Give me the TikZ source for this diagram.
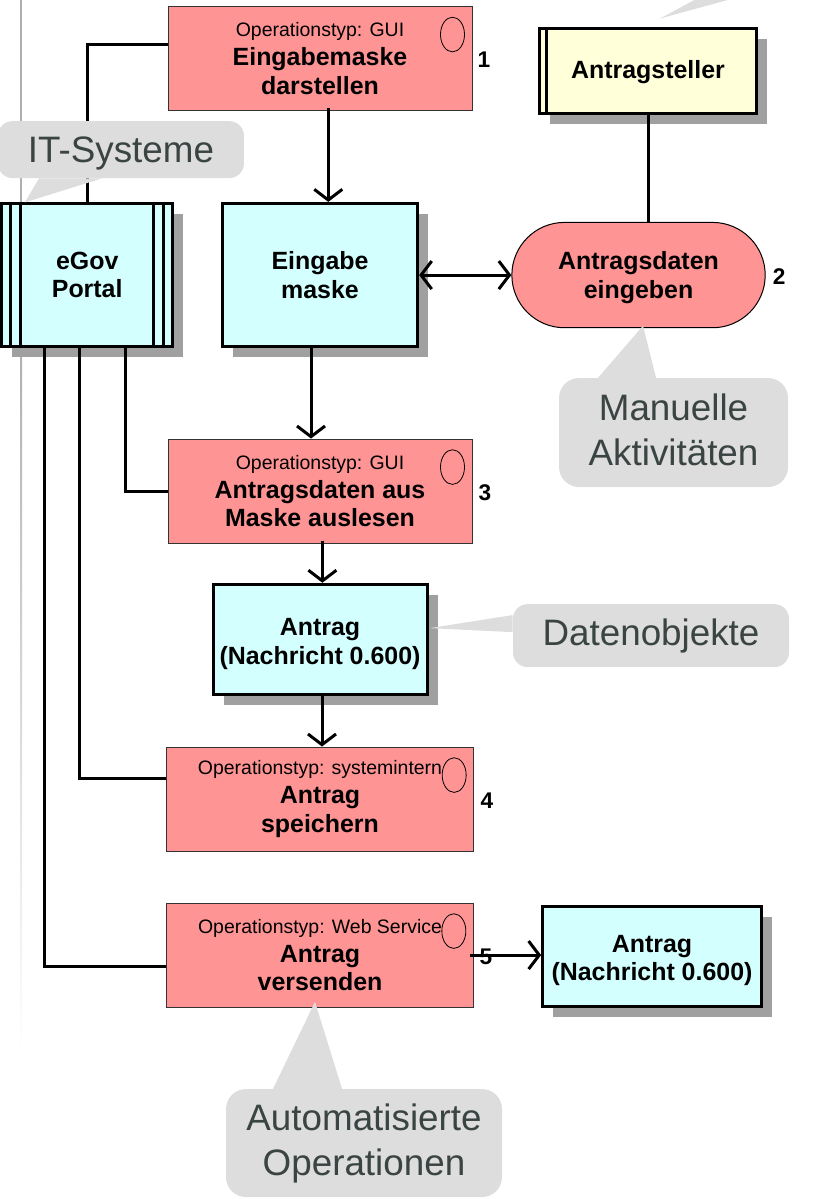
\documentclass[tikz,border=0pt]{standalone}
\usepackage{fontspec}
\setmainfont{Liberation Sans}
\usepackage{tikz}
\usetikzlibrary{arrows.meta,shapes.misc,shapes.geometric,positioning,shadows}
\usepackage{xcolor}
\definecolor{oplightred}{RGB}{255,148,148}
\definecolor{objcyan}{RGB}{212,255,255}
\definecolor{actoryellow}{RGB}{255,255,217}
\definecolor{boxshadow}{RGB}{160,160,160}
\definecolor{notegray}{RGB}{221,221,221}
\definecolor{notetext}{RGB}{58,68,66}
\definecolor{railgray}{RGB}{175,175,175}
\tikzset{boxshadow/.style={drop shadow={shadow xshift=7.9pt, shadow yshift=-7.9pt, fill=boxshadow, opacity=1}}}
\tikzstyle{operation} = [rectangle, minimum width=228pt, minimum height=78pt, inner sep=0pt, align=center, draw=black!80, fill=oplightred, line width=0.75pt, font=\fontsize{18.7}{21.5}\selectfont\bfseries]
\tikzstyle{dataobject} = [rectangle, minimum width=146.5pt, minimum height=107.5pt, inner sep=0pt, align=center, draw=black, fill=objcyan, line width=2.25pt, boxshadow, font=\fontsize{18.7}{21.5}\selectfont\bfseries]
\tikzstyle{actor} = [dataobject, fill=actoryellow]
\tikzstyle{manual} = [rounded rectangle, minimum width=190pt, minimum height=79pt, inner sep=0pt, align=center, draw=black, fill=oplightred, line width=0.75pt, font=\fontsize{18.7}{21.5}\selectfont\bfseries]
\tikzstyle{opmark} = [ellipse, minimum width=18pt, minimum height=26pt, inner sep=0pt, draw=black, line width=0.6pt]
\tikzstyle{number} = [inner sep=0pt, font=\fontsize{17}{20}\selectfont\bfseries]
\tikzstyle{note} = [rectangle, rounded corners=15pt, inner sep=0pt, align=center, fill=notegray, text=notetext, font=\fontsize{27.6}{33.75}\selectfont]
\tikzstyle{tail} = [fill=notegray]
\tikzstyle{arrow} = [line width=2.25pt,-{Straight Barb[length=8pt,width=21pt]},color=black]
\tikzstyle{both} = [line width=2.25pt,{Straight Barb[length=8pt,width=21pt]}-{Straight Barb[length=8pt,width=21pt]},color=black]
\tikzstyle{link} = [line width=2.25pt,color=black]
\tikzstyle{bar} = [line width=2.25pt,color=black]

\begin{document}
\begin{tikzpicture}
\useasboundingbox (0,0) rectangle (624.75pt,-899.25pt);
\fill [railgray] (15pt,0) rectangle (16.5pt,-255pt);
\shade [top color=railgray, bottom color=white] (15pt,-255pt) rectangle (16.5pt,-791pt);

\node (opmaske) [operation] at (240pt,-43.9pt) {{\fontsize{14.6}{18}\selectfont\mdseries Operationstyp: GUI}\\Eingabemaske\\darstellen};
\node (eingabe) [dataobject, node distance=162.4pt, below of=opmaske] {Eingabe\\maske};
\node (egov) [dataobject, minimum width=127.9pt, node distance=174.6pt, left of=eingabe] {eGov\\Portal};
\node (eingeben) [manual, node distance=238.9pt, right of=eingabe] {\rule{0pt}{17.5pt}Antragsdaten\\eingeben};
\node (steller) [actor, minimum width=163pt, minimum height=63.75pt, node distance=246pt, right of=opmaske, yshift=-9pt] {\rule{0pt}{16.5pt}Antragsteller};
\node (opauslesen) [operation, node distance=162pt, below of=eingabe] {{\fontsize{14.6}{18}\selectfont\mdseries Operationstyp: GUI}\\Antragsdaten aus\\Maske auslesen};
\node (antrag) [dataobject, minimum width=160.5pt, minimum height=83pt, node distance=111.4pt, below of=opauslesen] {\rule{0pt}{19.5pt}Antrag\\(Nachricht 0.600)};
\node (opspeichern) [operation, minimum width=230.5pt, node distance=119.6pt, below of=antrag] {{\fontsize{14.6}{18}\selectfont\mdseries Operationstyp: systemintern}\\Antrag\\speichern};
\node (opversenden) [operation, minimum width=230pt, node distance=117pt, below of=opspeichern] {{\fontsize{14.6}{18}\selectfont\mdseries Operationstyp: Web Service}\\Antrag\\versenden};
\node (antragaus) [dataobject, minimum width=164pt, minimum height=75pt, node distance=249pt, right of=opversenden, yshift=-0.75pt] {\rule{0pt}{19.5pt}Antrag\\(Nachricht 0.600)};

% ovals in the operations
\foreach \opname in {opmaske,opauslesen,opspeichern,opversenden}
  \node (\opname mark) [opmark] at ([xshift=-15pt,yshift=18pt]\opname.east) {};

% bars of the system and actor boxes
\foreach \barpos in {7.5pt,15pt}
  \draw [bar] ([xshift=\barpos]egov.north west) -- ([xshift=\barpos]egov.south west);
\foreach \barpos in {7.5pt,15pt}
  \draw [bar] ([xshift=-\barpos]egov.north east) -- ([xshift=-\barpos]egov.south east);
\draw [bar] ([xshift=6.75pt]steller.north west) -- ([xshift=6.75pt]steller.south west);

\draw [link] ([yshift=10.4pt]opmaske.west) -| (egov.north);
\draw [arrow] ([xshift=6.2pt,yshift=2pt]opmaske.south) -- ([xshift=6.2pt]eingabe.north);
\draw [both] (eingabe.east) -- (eingeben.west);
\draw [link] (steller.south) -- (steller.south |- eingeben.north);
\draw [arrow] ([xshift=-6.75pt]eingabe.south) -- ([xshift=-6.75pt]opauslesen.north);
\draw [link] ([xshift=29pt]egov.south) |- (opauslesen.west);
\draw [arrow] ([xshift=1.8pt,yshift=2pt]opauslesen.south) -- ([xshift=1.8pt]antrag.north);
\draw [arrow] ([xshift=1.5pt]antrag.south) -- ([xshift=1.5pt]opspeichern.north);
\draw [link] ([xshift=-6pt]egov.south) |- ([yshift=15.75pt]opspeichern.west);
\draw [link] ([xshift=-32.4pt]egov.south) |- ([yshift=-8.25pt]opversenden.west);
\draw [arrow] ([xshift=-3pt]opversenden.east) -- (antragaus.west |- opversenden.east);

\node (nummereins) [number, node distance=123pt, right of=opmaske, yshift=-1pt] {1};
\node (nummerzwei) [number, node distance=105.4pt, right of=eingeben, yshift=-1pt] {2};
\node (nummerdrei) [number, node distance=123.75pt, right of=opauslesen, yshift=-1pt] {3};
\node (nummervier) [number, node distance=125.25pt, right of=opspeichern, yshift=-1.5pt] {4};
\node (nummerfuenf) [number, node distance=124.5pt, right of=opversenden, yshift=-1.5pt] {5};

\node (notesysteme) [note, rounded corners=11pt, minimum width=184.5pt, minimum height=42.75pt, node distance=94.1pt, above of=egov, xshift=25.3pt] {\rule{0pt}{24.4pt}IT-Systeme};
\fill [tail] ([shift={(-72pt,-18pt)}]notesysteme.south) -- ([xshift=-61.5pt]notesysteme.south) -- ([xshift=-14.25pt]notesysteme.south) -- cycle;
\node (notemanuell) [note, minimum width=171.75pt, minimum height=81.75pt, node distance=118.1pt, below of=eingeben, xshift=26.25pt] {Manuelle\\Aktivitäten\rule[-4.5pt]{0pt}{1pt}};
\fill [tail] ([shift={(-22.9pt,39pt)}]notemanuell.north) -- ([xshift=-56.6pt]notemanuell.north) -- ([xshift=-13.1pt]notemanuell.north) -- cycle;
\node (notedaten) [note, rounded corners=11pt, minimum width=207pt, minimum height=47.25pt, node distance=248.25pt, right of=antrag, yshift=3pt] {Datenobjekte};
\fill [tail] ([shift={(-62.25pt,5.6pt)}]notedaten.west) -- ([yshift=15.4pt]notedaten.west) -- ([yshift=2.6pt]notedaten.west) -- cycle;
\node (noteauto) [note, minimum width=207pt, minimum height=81pt, node distance=141pt, below of=opversenden, xshift=33pt] {Automatisierte\\Operationen};
\fill [tail] ([shift={(-36.75pt,65.25pt)}]noteauto.north) -- ([xshift=-68.25pt]noteauto.north) -- ([xshift=-16.5pt]noteauto.north) -- cycle;
% tail of the note above the picture
\fill [tail] ([shift={(9pt,6pt)}]steller.north) -- ([shift={(36.75pt,21pt)}]steller.north) -- ([shift={(63.75pt,21pt)}]steller.north) -- cycle;
\end{tikzpicture}
\end{document}
